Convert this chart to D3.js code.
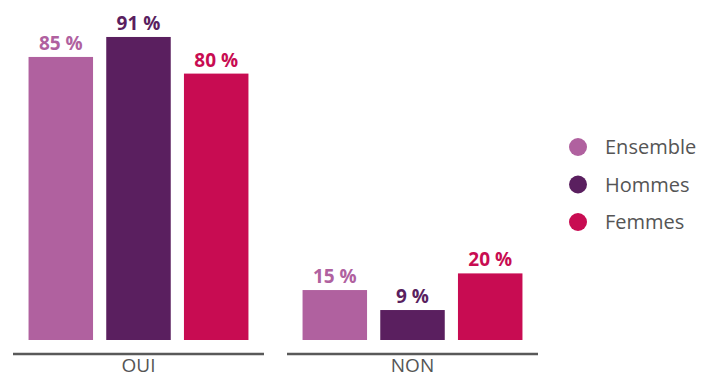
<!DOCTYPE html>
<html>
<head>
<meta charset="utf-8">
<script src="https://cdn.jsdelivr.net/npm/d3@7"></script>
<style>
  html, body { margin: 0; padding: 0; background: #fff; }
  svg { display: block; }
</style>
</head>
<body>
<svg id="chart" width="708" height="378"></svg>
<script>
// Answer groups and series
const groups = ["OUI", "NON"];
const series = ["Ensemble", "Hommes", "Femmes"];
const colors = ["#b0619f", "#5a1f5f", "#c80c52"];

// Percentages per series, in the order of `groups`
const ensemble = [85, 15];
const hommes = [91, 9];
const femmes = [80, 20];
const valuesBySeries = [ensemble, hommes, femmes];

const svg = d3.select("#chart");

const baseline = 340;
const y = d3.scaleLinear().domain([0, 100]).range([baseline, 7]);

const x0 = d3.scaleBand()
  .domain(groups)
  .range([13, 538])
  .paddingInner(0.084)
  .paddingOuter(0);

const x1 = d3.scaleBand()
  .domain(series)
  .range([0, x0.bandwidth()])
  .paddingInner(0.17)
  .paddingOuter(0.2);

const color = d3.scaleOrdinal().domain(series).range(colors);

const rows = [];
groups.forEach((g, gi) => {
  series.forEach((s, si) => {
    rows.push({ group: g, series: s, value: valuesBySeries[si][gi] });
  });
});

const gGroups = svg.selectAll("g.grp")
  .data(groups)
  .join("g")
  .attr("class", "grp")
  .attr("transform", d => `translate(${x0(d)},0)`);

// Bars
gGroups.selectAll("rect")
  .data(g => rows.filter(r => r.group === g))
  .join("rect")
  .attr("x", d => x1(d.series))
  .attr("y", d => y(d.value))
  .attr("width", x1.bandwidth())
  .attr("height", d => baseline - y(d.value))
  .attr("fill", d => color(d.series));

// Value labels
gGroups.selectAll("text.val")
  .data(g => rows.filter(r => r.group === g))
  .join("text")
  .attr("class", "val")
  .attr("x", d => x1(d.series) + x1.bandwidth() / 2)
  .attr("y", d => y(d.value) - 7)
  .attr("text-anchor", "middle")
  .attr("font-family", "'Open Sans', sans-serif")
  .attr("font-weight", 700)
  .attr("font-size", 19)
  .attr("fill", d => color(d.series))
  .text(d => `${d.value}\u00a0%`);

// Group baselines
gGroups.append("line")
  .attr("x1", 0)
  .attr("x2", x0.bandwidth())
  .attr("y1", 354)
  .attr("y2", 354)
  .attr("stroke", "#595959")
  .attr("stroke-width", 2.5);

// Group names
gGroups.append("text")
  .attr("x", x0.bandwidth() / 2)
  .attr("y", 372)
  .attr("text-anchor", "middle")
  .attr("font-family", "'Open Sans', sans-serif")
  .attr("font-size", 19)
  .attr("fill", "#555")
  .text(d => d);

// Legend
const legend = svg.append("g").attr("transform", "translate(578,147)");
const item = legend.selectAll("g")
  .data(series)
  .join("g")
  .attr("transform", (d, i) => `translate(0,${i * 37.5})`);
item.append("circle")
  .attr("r", 9)
  .attr("fill", d => color(d));
item.append("text")
  .attr("x", 27)
  .attr("y", 7)
  .attr("font-family", "'Open Sans', sans-serif")
  .attr("font-size", 20)
  .attr("fill", "#555")
  .text(d => d);
</script>
</body>
</html>
